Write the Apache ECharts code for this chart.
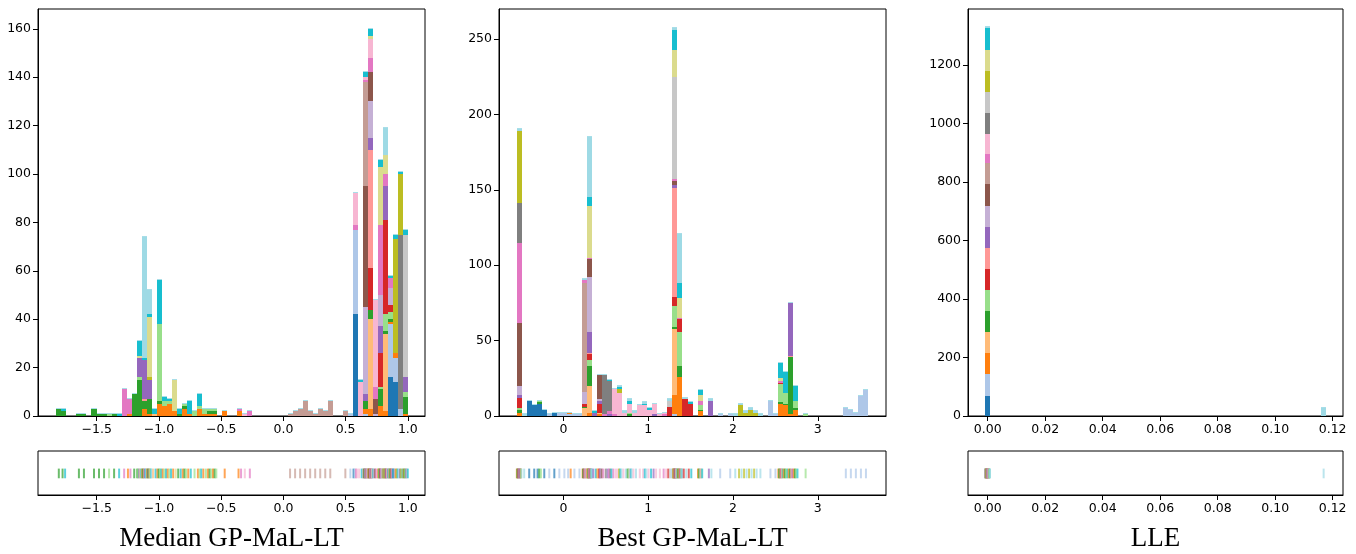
<!DOCTYPE html>
<html><head><meta charset="utf-8">
<script src="https://cdn.jsdelivr.net/npm/echarts@6/dist/echarts.min.js"></script>
<style>html,body{margin:0;padding:0;background:#fff}#c{width:1356px;height:554px}</style>
</head><body><div id="c"></div>
<script>
// tab20 class colours (class index 0..19)
const COLORS = ['#1f77b4','#aec7e8','#ff7f0e','#ffbb78','#2ca02c','#98df8a','#d62728','#ff9896','#9467bd','#c5b0d5',
                '#8c564b','#c49c94','#e377c2','#f7b6d2','#7f7f7f','#c7c7c7','#bcbd22','#dbdb8d','#17becf','#9edae5'];

const panelTitles = ['Median GP-MaL-LT', 'Best GP-MaL-LT', 'LLE'];
// histogram bins: first bin edge and bin width (data units)
const binStarts = [-1.825, -0.553, -0.00094];
const binWidths = [0.0404, 0.0593, 0.001695];
// axis limits
const xLimits = [[-1.972, 1.138], [-0.761, 3.805], [-0.00687, 0.1236]];
const yMaxes = [168.2, 269.9, 1391];
const xTickValues = [[-1.5, -1, -0.5, 0, 0.5, 1], [0, 1, 2, 3], [0, 0.02, 0.04, 0.06, 0.08, 0.10, 0.12]];
const yTickValues = [[0, 20, 40, 60, 80, 100, 120, 140, 160], [0, 50, 100, 150, 200, 250], [0, 200, 400, 600, 800, 1000, 1200]];
const xTickDecimals = [1, 0, 2];

// each row: bin index, then (class, count) pairs, stacked bottom to top
const medianHist = [
  [0, 4,3], [1, 4,2, 18,1], [4, 4,1], [5, 4,1], [7, 4,3], [8, 4,1], [9, 4,1],
  [10, 5,1], [11, 4,1], [12, 18,1], [13, 12,11], [14, 2,1, 12,6], [15, 4,9],
  [16, 4,15, 5,1, 8,8, 17,1, 18,6],
  [17, 2,3, 4,3, 7,1, 8,16, 18,1, 19,50],
  [18, 2,1, 4,6, 8,8, 16,1, 17,25, 18,1, 19,10],
  [19, 3,1, 18,2],
  [20, 2,5, 4,1, 5,32, 18,18],
  [21, 2,4, 5,2, 18,2], [22, 2,5, 5,1, 18,1], [23, 2,2, 17,13], [24, 4,1, 18,2],
  [25, 2,3, 4,1, 5,1], [26, 2,1, 18,5], [27, 5,2], [28, 2,3, 5,1, 18,5],
  [29, 2,1, 5,2], [30, 2,1, 4,1, 5,1], [31, 2,1, 4,1, 5,1], [33, 2,2],
  [36, 2,2, 12,1], [37, 13,1], [38, 12,2],
  [46, 11,1], [47, 11,2], [48, 11,3], [49, 11,6], [50, 11,2], [51, 11,1], [52, 11,3],
  [53, 11,2], [54, 11,6], [57, 11,2], [58, 1,1],
  [59, 0,42, 1,35, 12,2, 13,13],
  [60, 13,14, 18,1],
  [61, 1,1, 2,2, 4,3, 8,3, 9,36, 10,50, 11,43, 12,1, 13,1, 18,2],
  [62, 2,3, 3,37, 4,4, 6,17, 7,49, 8,5, 9,15, 10,12, 12,6, 13,8, 17,1, 18,3],
  [63, 9,1, 10,6, 12,5, 13,36],
  [64, 2,4, 4,7, 5,1, 6,14, 8,11, 9,13, 12,29, 17,24, 18,3],
  [65, 2,2, 3,32, 4,1, 5,7, 6,39, 8,14, 12,5, 17,8, 19,11],
  [66, 0,16, 1,22, 2,1, 4,1, 5,3, 6,3, 9,7, 12,4, 18,1],
  [67, 0,14, 1,10, 2,2, 16,47, 18,2],
  [68, 1,3, 14,72, 16,25, 18,1],
  [69, 2,1, 4,7, 5,2, 8,6, 15,59, 18,2]
];

const bestHist = [
  [0, 2,2, 4,2, 5,1, 6,7, 8,2, 9,6, 10,42, 12,53, 14,26, 16,48, 19,1],
  [1, 19,1], [2, 0,10], [3, 0,7], [4, 0,8, 4,1, 5,1], [5, 0,4], [6, 1,1], [7, 0,2],
  [8, 1,2], [9, 1,2], [10, 1,1, 2,1], [11, 1,1], [12, 1,1],
  [13, 3,5, 4,1, 6,2, 9,8, 11,72, 12,2, 19,1],
  [14, 2,2, 3,18, 4,13, 5,4, 6,4, 7,1, 8,14, 9,36, 10,12, 12,1, 17,34, 18,6, 19,40],
  [15, 8,2, 18,1],
  [16, 2,1, 3,1, 6,6, 8,2, 9,1, 10,16],
  [17, 12,1, 14,26],
  [18, 8,1, 12,2, 14,20, 18,1],
  [19, 12,1, 13,17],
  [20, 13,15, 16,3, 18,1, 19,1],
  [21, 13,2, 19,1],
  [22, 4,1, 5,1, 13,6, 18,2, 19,1],
  [23, 13,2, 19,1], [24, 13,7], [25, 13,7, 18,1, 19,1], [26, 13,4, 18,1],
  [27, 8,1, 13,7], [28, 13,1], [29, 12,1, 13,1], [30, 6,6, 15,4, 19,1],
  [31, 1,1, 2,13, 3,44, 4,1, 5,14, 6,6, 7,72, 8,2, 10,3, 12,1, 15,68, 17,18, 18,13, 19,1],
  [32, 2,26, 4,7, 5,23, 6,8, 12,1, 17,13, 18,10, 19,33],
  [33, 6,11, 19,1], [34, 6,8, 18,1],
  [36, 2,3, 4,1, 5,3, 12,3, 17,4, 18,3],
  [38, 8,10, 19,1], [40, 1,1], [42, 1,1], [43, 19,1],
  [44, 16,7, 19,1], [45, 16,2, 19,1], [46, 16,4, 19,1], [47, 16,2, 19,1], [48, 19,1],
  [50, 1,10], [51, 1,1],
  [52, 2,8, 4,1, 5,12, 6,1, 12,1, 17,2, 18,10],
  [53, 2,7, 4,1, 5,7, 18,14],
  [54, 2,1, 4,38, 7,1, 8,35],
  [55, 2,4, 4,1, 5,5, 18,10],
  [57, 5,1],
  [65, 1,5], [66, 1,4], [67, 1,2], [68, 1,13], [69, 1,17]
];

const lleHist = [
  [0, 0,70, 1,72, 2,72, 3,72, 4,72, 5,72, 6,72, 7,72, 8,72, 9,72, 10,75, 11,73, 12,30, 13,68, 14,72, 15,72, 16,72, 17,72, 18,75, 19,3],
  [69, 19,29]
];

const histRows = [medianHist, bestHist, lleHist];

// ---------- build series data from the rows ----------
function build(rows, start, width) {
  const rects = [], caps = [], rug = [];
  rows.forEach(row => {
    const bin = row[0];
    const x0 = start + bin * width, x1 = x0 + width;
    const n = (row.length - 1) / 2;
    let acc = 0;
    for (let k = 0; k < n; k++) {
      const c = row[1 + 2 * k], v = row[2 + 2 * k];
      rects.push([x0, x1, acc, acc + v, c]);
      rug.push([x0 + width * (k + 0.5) / n, c]);
      acc += v;
    }
    caps.push([x0, x1, acc]);
  });
  return { rects, caps, rug };
}

function rectItem(params, api) {
  const a = api.coord([api.value(0), api.value(2)]);
  const b = api.coord([api.value(1), api.value(3)]);
  const xL = Math.round(a[0]), xR = Math.round(b[0]);
  const yB = Math.round(a[1]), yT = Math.round(b[1]);
  return { type: 'rect', shape: { x: xL, y: yT, width: xR - xL, height: yB - yT }, style: { fill: COLORS[api.value(4)] } };
}
function capItem(params, api) {
  const a = api.coord([api.value(0), api.value(2)]);
  const b = api.coord([api.value(1), api.value(2)]);
  const xL = Math.round(a[0]), xR = Math.round(b[0]);
  const yT = Math.round(a[1]);
  return { type: 'rect', shape: { x: xL, y: yT - 1, width: xR - xL, height: 1 }, style: { fill: '#9edae5', opacity: 0.9 } };
}
function rugItem(params, api) {
  const a = api.coord([api.value(0), 0.38]);
  const b = api.coord([api.value(0), 0.6]);
  return { type: 'rect', shape: { x: a[0] - 1, y: b[1], width: 2, height: a[1] - b[1] }, style: { fill: COLORS[api.value(1)], opacity: 0.7 } };
}

// ---------- layout (pixels) ----------
const panelLeft = [38, 499, 968];
const panelWidth = [387, 387, 375];
const histTop = 9, histHeight = 407;
const rugTop = 451, rugHeight = 44;
const FONT = 'DejaVu Sans';

function fmt(d) {
  return v => {
    const s = Math.abs(v).toFixed(d);
    return (v < -1e-9 ? '\u2212' : '') + s;
  };
}

const grids = [], xAxes = [], yAxes = [], series = [], graphics = [];
for (let p = 0; p < 3; p++) {
  const data = build(histRows[p], binStarts[p], binWidths[p]);
  const gi = grids.length;
  grids.push({ left: panelLeft[p], top: histTop, width: panelWidth[p], height: histHeight, show: true, borderColor: '#000', borderWidth: 1, backgroundColor: 'transparent' });
  grids.push({ left: panelLeft[p], top: rugTop, width: panelWidth[p], height: rugHeight, show: true, borderColor: '#000', borderWidth: 1, backgroundColor: 'transparent' });
  const xCommon = {
    type: 'value', min: xLimits[p][0], max: xLimits[p][1], z: 10,
    axisLine: { show: true, onZero: false, lineStyle: { color: '#000', width: 1 } },
    axisTick: { show: true, length: 5, lineStyle: { color: '#000', width: 1 }, customValues: xTickValues[p] },
    axisLabel: { customValues: xTickValues[p], formatter: fmt(xTickDecimals[p]), color: '#000', fontSize: 12.5, fontFamily: FONT, margin: 7 },
    splitLine: { show: false }
  };
  xAxes.push(Object.assign({ gridIndex: gi }, xCommon));
  xAxes.push(Object.assign({ gridIndex: gi + 1 }, xCommon));
  yAxes.push({
    type: 'value', gridIndex: gi, min: 0, max: yMaxes[p], z: 10,
    axisLine: { show: true, onZero: false, lineStyle: { color: '#000', width: 1 } },
    axisTick: { show: true, length: 5, lineStyle: { color: '#000', width: 1 }, customValues: yTickValues[p] },
    axisLabel: { customValues: yTickValues[p], formatter: v => String(v), color: '#000', fontSize: 12.5, fontFamily: FONT, margin: 7 },
    splitLine: { show: false }
  });
  yAxes.push({ type: 'value', gridIndex: gi + 1, min: 0, max: 1, show: false });

  series.push({ type: 'custom', coordinateSystem: 'cartesian2d', xAxisIndex: gi, yAxisIndex: gi, renderItem: rectItem,
    encode: { x: [0, 1], y: [2, 3] }, data: data.rects, silent: true, z: 2 });
  series.push({ type: 'custom', coordinateSystem: 'cartesian2d', xAxisIndex: gi, yAxisIndex: gi, renderItem: capItem,
    encode: { x: [0, 1], y: [2] }, data: data.caps, silent: true, z: 3 });
  series.push({ type: 'custom', coordinateSystem: 'cartesian2d', xAxisIndex: gi + 1, yAxisIndex: gi + 1, renderItem: rugItem,
    encode: { x: [0] }, data: data.rug, silent: true, z: 2 });

  graphics.push({ type: 'text', x: panelLeft[p] + panelWidth[p] / 2, y: 539,
    style: { text: panelTitles[p], font: '27px "Liberation Serif", "DejaVu Serif", serif', fill: '#000', textAlign: 'center', textVerticalAlign: 'middle' } });
}

const chart = echarts.init(document.getElementById('c'), null, { renderer: 'canvas' });
chart.setOption({
  animation: false,
  backgroundColor: '#fff',
  grid: grids, xAxis: xAxes, yAxis: yAxes, series: series,
  graphic: graphics
});
</script></body></html>
